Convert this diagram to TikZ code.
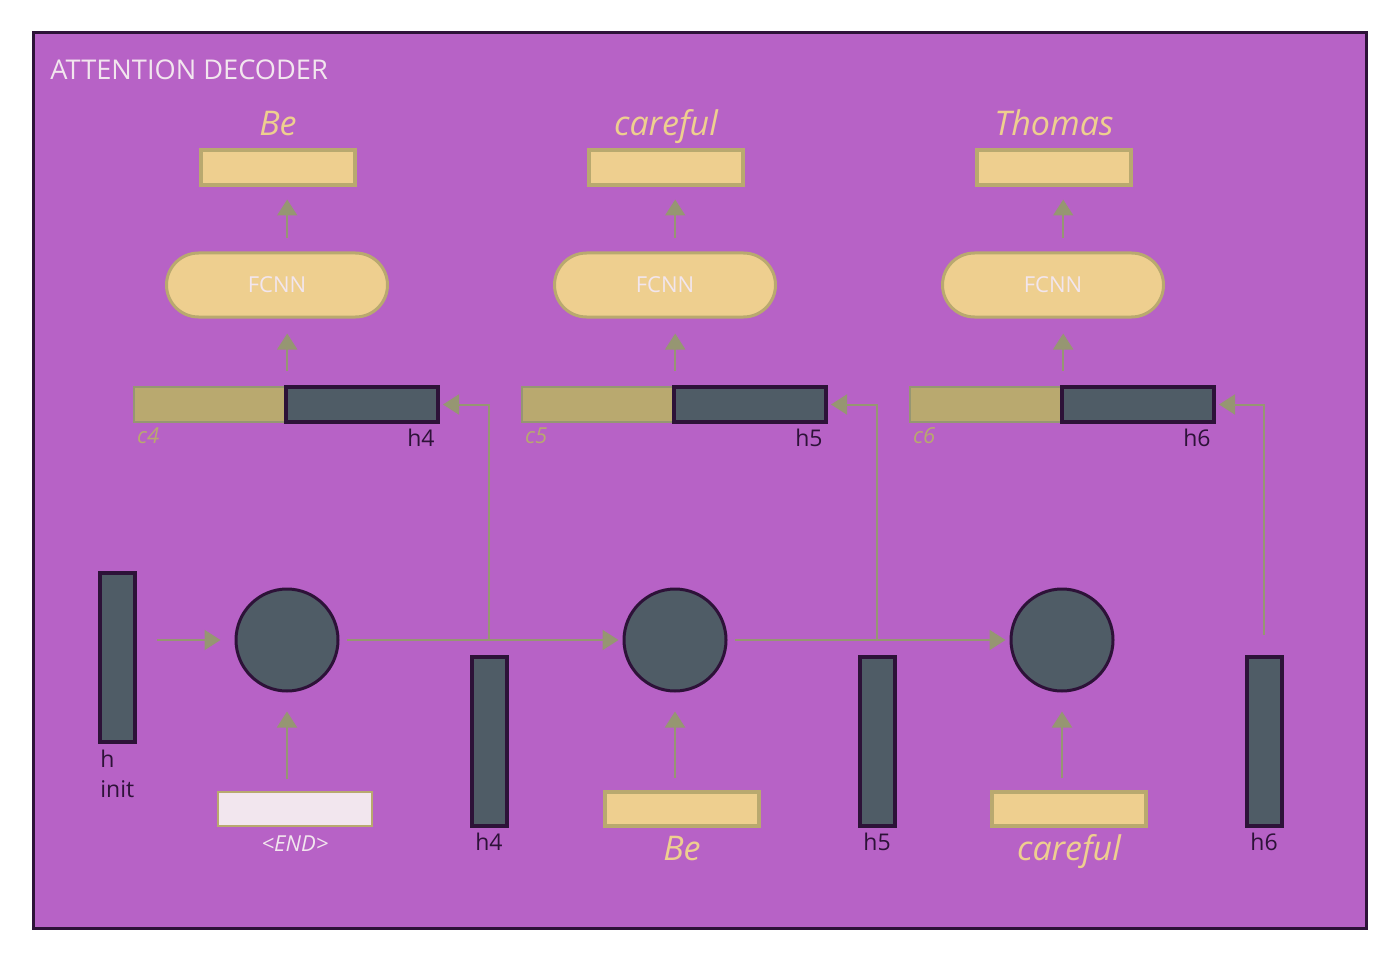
\documentclass[tikz,border=0pt]{standalone}
\usepackage{fontspec}
\setmainfont{Open Sans}
\usepackage{tikz}
\usetikzlibrary{arrows.meta,positioning,calc}
\definecolor{panel}{HTML}{B762C6}
\definecolor{frame}{HTML}{2D1238}
\definecolor{wheat}{HTML}{EECF8F}
\definecolor{khaki}{HTML}{B9A96F}
\definecolor{slate}{HTML}{4F5C66}
\definecolor{wire}{HTML}{969672}
\definecolor{paper}{HTML}{F2E6EE}
\newcommand{\outblock}[3]{%
  \node[catc] (c#1) at ({#2-67},404.5) {};
  \node[cath] (hc#1) at ({#2+85},404.5) {};
  \node[pill] (fcnn#1) at (#2,285) {FCNN};
  \node[wordbox] (out#1) at ({#2+1},168) {};
  \node[outword,anchor=base] (w#1) at (out#1 |- 0,136) {#3};
  \node[clabel,anchor=north west] (cl#1) at (c#1.south west) {c#1};
  \node[hlabel,anchor=north east] (hl#1) at (hc#1.south east) {h#1};
  \draw[wirearrow,shorten <=7.5pt,shorten >=7.5pt] (c#1.north east) -- (c#1.north east |- fcnn#1.south);
  \draw[wirearrow,shorten <=6.5pt,shorten >=6pt] (fcnn#1.north -| c#1.north east) -- (out#1.south -| c#1.north east);
}

\begin{document}
\begin{tikzpicture}[x=0.5pt,y=-0.5pt,
  wirearrow/.style={draw=wire,line width=1pt,-{Triangle[length=8pt,width=10pt]}},
  cell/.style={circle,fill=slate,draw=frame,line width=1.5pt,minimum size=51pt,inner sep=0pt},
  hbar/.style={rectangle,fill=slate,draw=frame,line width=2pt,minimum width=17.5pt,minimum height=84.5pt,inner sep=0pt},
  cath/.style={rectangle,fill=slate,draw=frame,line width=2pt,minimum width=76pt,minimum height=17.5pt,inner sep=0pt},
  catc/.style={rectangle,fill=khaki,draw=wire,line width=1.2pt,minimum width=76pt,minimum height=17.5pt,inner sep=0pt},
  wordbox/.style={rectangle,fill=wheat,draw=khaki,line width=2pt,minimum width=77pt,minimum height=17.5pt,inner sep=0pt},
  pill/.style={rectangle,rounded corners=16pt,fill=wheat,draw=khaki,line width=1.5pt,minimum width=110.5pt,minimum height=32pt,text=paper,font=\fontsize{11}{13}\selectfont},
  outword/.style={text=wheat,font=\fontsize{17}{20}\selectfont\itshape,inner sep=0pt},
  inword/.style={text=wheat,font=\fontsize{17}{20}\selectfont\itshape,inner sep=0pt},
  clabel/.style={text=khaki,font=\fontsize{11}{13}\selectfont\itshape,inner sep=2pt},
  hlabel/.style={text=frame,font=\fontsize{11.5}{14}\selectfont,inner sep=2.5pt}]
  \useasboundingbox (0,0) rectangle (1400,962);
  \draw[draw=frame,fill=panel,line width=1.5pt] (33,33) rectangle (1366,928);
  \node[anchor=west,text=paper,font=\fontsize{13.6}{16}\selectfont,inner sep=0pt] (title) at (50,70) {ATTENTION DECODER};
  \outblock{4}{277}{Be}
  \outblock{5}{665}{careful}
  \outblock{6}{1053}{Thomas}
  \node[hbar] (hinit) at (117.5,657.5) {};
  \node[hlabel,anchor=north west,align=left,inner sep=0pt,font=\fontsize{11.5}{15}\selectfont] (hinitl) at ([xshift=1pt,yshift=-3pt]hinit.south west) {h\\init};
  \node[cell] (rnn4) at (287,640) {};
  \node[cell] (rnn5) at (675,640) {};
  \node[cell] (rnn6) at (1062,640) {};
  \node[hbar] (h4bar) at (489,741.5) {};
  \node[hbar] (h5bar) at (877,741.5) {};
  \node[hbar] (h6bar) at (1264,741.5) {};
  \node[hlabel,below=0pt of h4bar] (h4l) {h4};
  \node[hlabel,below=0pt of h5bar] (h5l) {h5};
  \node[hlabel,below=0pt of h6bar] (h6l) {h6};
  \node[wordbox,fill=paper,line width=1pt,minimum height=17pt] (in4) at (295,809) {};
  \node[wordbox,minimum height=17pt] (in5) at (682,809) {};
  \node[wordbox,minimum height=17pt] (in6) at (1069,809) {};
  \node[text=paper,font=\fontsize{11}{13}\selectfont\itshape,below=1pt of in4] (end) {\textless END\textgreater};
  \node[inword,anchor=base] (be) at (in5 |- 0,860) {Be};
  \node[inword,anchor=base] (careful) at (in6 |- 0,860) {careful};
  \draw[wirearrow,shorten <=10pt,shorten >=7pt] (hinit.east |- rnn4) -- (rnn4.west);
  \draw[wirearrow,shorten <=6pt,shorten >=9.5pt] (in4.north -| rnn4) -- (rnn4.south);
  \draw[wirearrow,shorten <=6pt,shorten >=9.5pt] (in5.north -| rnn5) -- (rnn5.south);
  \draw[wirearrow,shorten <=6pt,shorten >=9.5pt] (in6.north -| rnn6) -- (rnn6.south);
  \draw[wirearrow,shorten <=3.5pt,shorten >=2pt] (rnn4.east) -- (rnn5.west);
  \draw[wirearrow,shorten <=3.5pt,shorten >=2pt] (rnn5.east) -- (rnn6.west);
  \coordinate (j4) at (h4bar |- rnn4);
  \coordinate (j5) at (h5bar |- rnn5);
  \coordinate (j6) at ([yshift=2.5pt]h6bar |- rnn6);
  \draw[wirearrow,shorten >=1.5pt] (j4) |- (hc4.east);
  \draw[wirearrow,shorten >=1.5pt] (j5) |- (hc5.east);
  \draw[wirearrow,shorten >=1.5pt] (j6) |- (hc6.east);
\end{tikzpicture}
\end{document}
